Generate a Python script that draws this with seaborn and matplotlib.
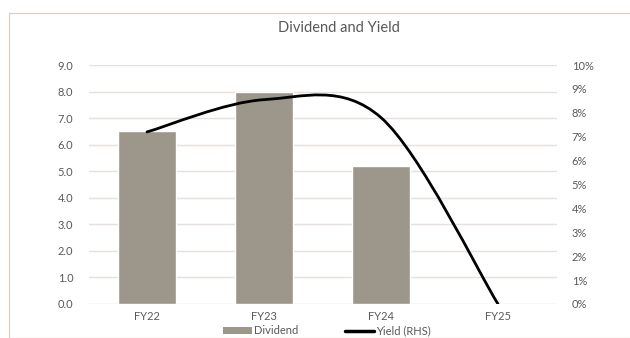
import numpy as np
import pandas as pd
import matplotlib
matplotlib.use('Agg')
import matplotlib.pyplot as plt
from matplotlib.path import Path
from matplotlib.patches import PathPatch, Rectangle
from matplotlib.lines import Line2D
from matplotlib.patches import Patch
import seaborn as sns

# data
years = ['FY22', 'FY23', 'FY24', 'FY25']
dividend_years = ['FY22', 'FY23', 'FY24']
dividend = [6.5, 8.0, 5.2]
yield_pct = [7.2, 8.55, 7.8, 0.0]
left_ticks = [0, 1, 2, 3, 4, 5, 6, 7, 8, 9]
right_ticks = [0, 1, 2, 3, 4, 5, 6, 7, 8, 9, 10]

BAR = '#9d968a'
TXT = '#595959'
GRID = '#e8e0da'


def smooth_path(xs, ys):
    # Excel-style smoothed line: cubic bezier with catmull-rom control points
    pts = list(zip(xs, ys))
    n = len(pts)
    verts = [pts[0]]
    codes = [Path.MOVETO]
    for i in range(n - 1):
        p0 = pts[i - 1] if i > 0 else pts[i]
        p1 = pts[i]
        p2 = pts[i + 1]
        p3 = pts[i + 2] if i + 2 < n else pts[i + 1]
        c1 = (p1[0] + (p2[0] - p0[0]) / 6, p1[1] + (p2[1] - p0[1]) / 6)
        c2 = (p2[0] - (p3[0] - p1[0]) / 6, p2[1] - (p3[1] - p1[1]) / 6)
        verts += [c1, c2, p2]
        codes += [Path.CURVE4] * 3
    return Path(verts, codes)


sns.set_style('white')
plt.rcParams['font.family'] = ['Lato', 'DejaVu Sans']

W, H = 630, 338
fig = plt.figure(figsize=(W / 100, H / 100), dpi=100)
fig.patches.append(Rectangle((9 / W, 0), 1, 1 - 13 / H, transform=fig.transFigure,
                             fill=False, edgecolor='#d8d0c4', linewidth=0.9))

ax = fig.add_axes([88.5 / W, (H - 304) / H, 468 / W, (304 - 65) / H])
df = pd.DataFrame({'year': dividend_years, 'dividend': dividend})
sns.barplot(data=df, x='year', y='dividend', order=years, color=BAR, width=0.5,
            saturation=1, errorbar=None, ax=ax, zorder=2)
ax.set_ylim(0, 9)
ax.set_xlim(-0.5, 3.5)
ax.set_yticks(left_ticks)
ax.set_yticklabels([f'{v:.1f}' for v in left_ticks])
ax.yaxis.grid(True, color=GRID, linewidth=1.0, zorder=0)
ax.set_axisbelow(True)
for s in ax.spines.values():
    s.set_visible(False)
ax.set_xlabel('')
ax.set_ylabel('')
ax.tick_params(axis='y', length=0, pad=11, labelsize=8, labelcolor=TXT)
ax.tick_params(axis='x', length=0, pad=5, labelsize=8, labelcolor=TXT)

ax2 = ax.twinx()
ax2.set_ylim(0, 10)
ax2.set_yticks(right_ticks)
ax2.set_yticklabels([f'{v}%' for v in right_ticks])
for s in ax2.spines.values():
    s.set_visible(False)
ax2.tick_params(axis='y', length=0, pad=11, labelsize=8, labelcolor=TXT)
ax2.add_patch(PathPatch(smooth_path(range(len(years)), yield_pct), fill=False,
                        edgecolor='black', linewidth=2.0, capstyle='round', zorder=3))

fig.text(339 / W, 1 - 28 / H, 'Dividend and Yield', ha='center', va='center',
         fontsize=10.5, color=TXT)

handles = [Patch(facecolor=BAR, edgecolor='none'),
           Line2D([0], [0], color='black', linewidth=2.5)]
fig.legend(handles, ['Dividend', 'Yield (RHS)'], loc='center', ncol=2,
           bbox_to_anchor=(327 / W, 1 - 331 / H), frameon=False, fontsize=8,
           labelcolor=TXT, handlelength=2.6, handleheight=0.6, handletextpad=0.2,
           columnspacing=4.2, borderpad=0)

fig.savefig('out.png', dpi=100)
